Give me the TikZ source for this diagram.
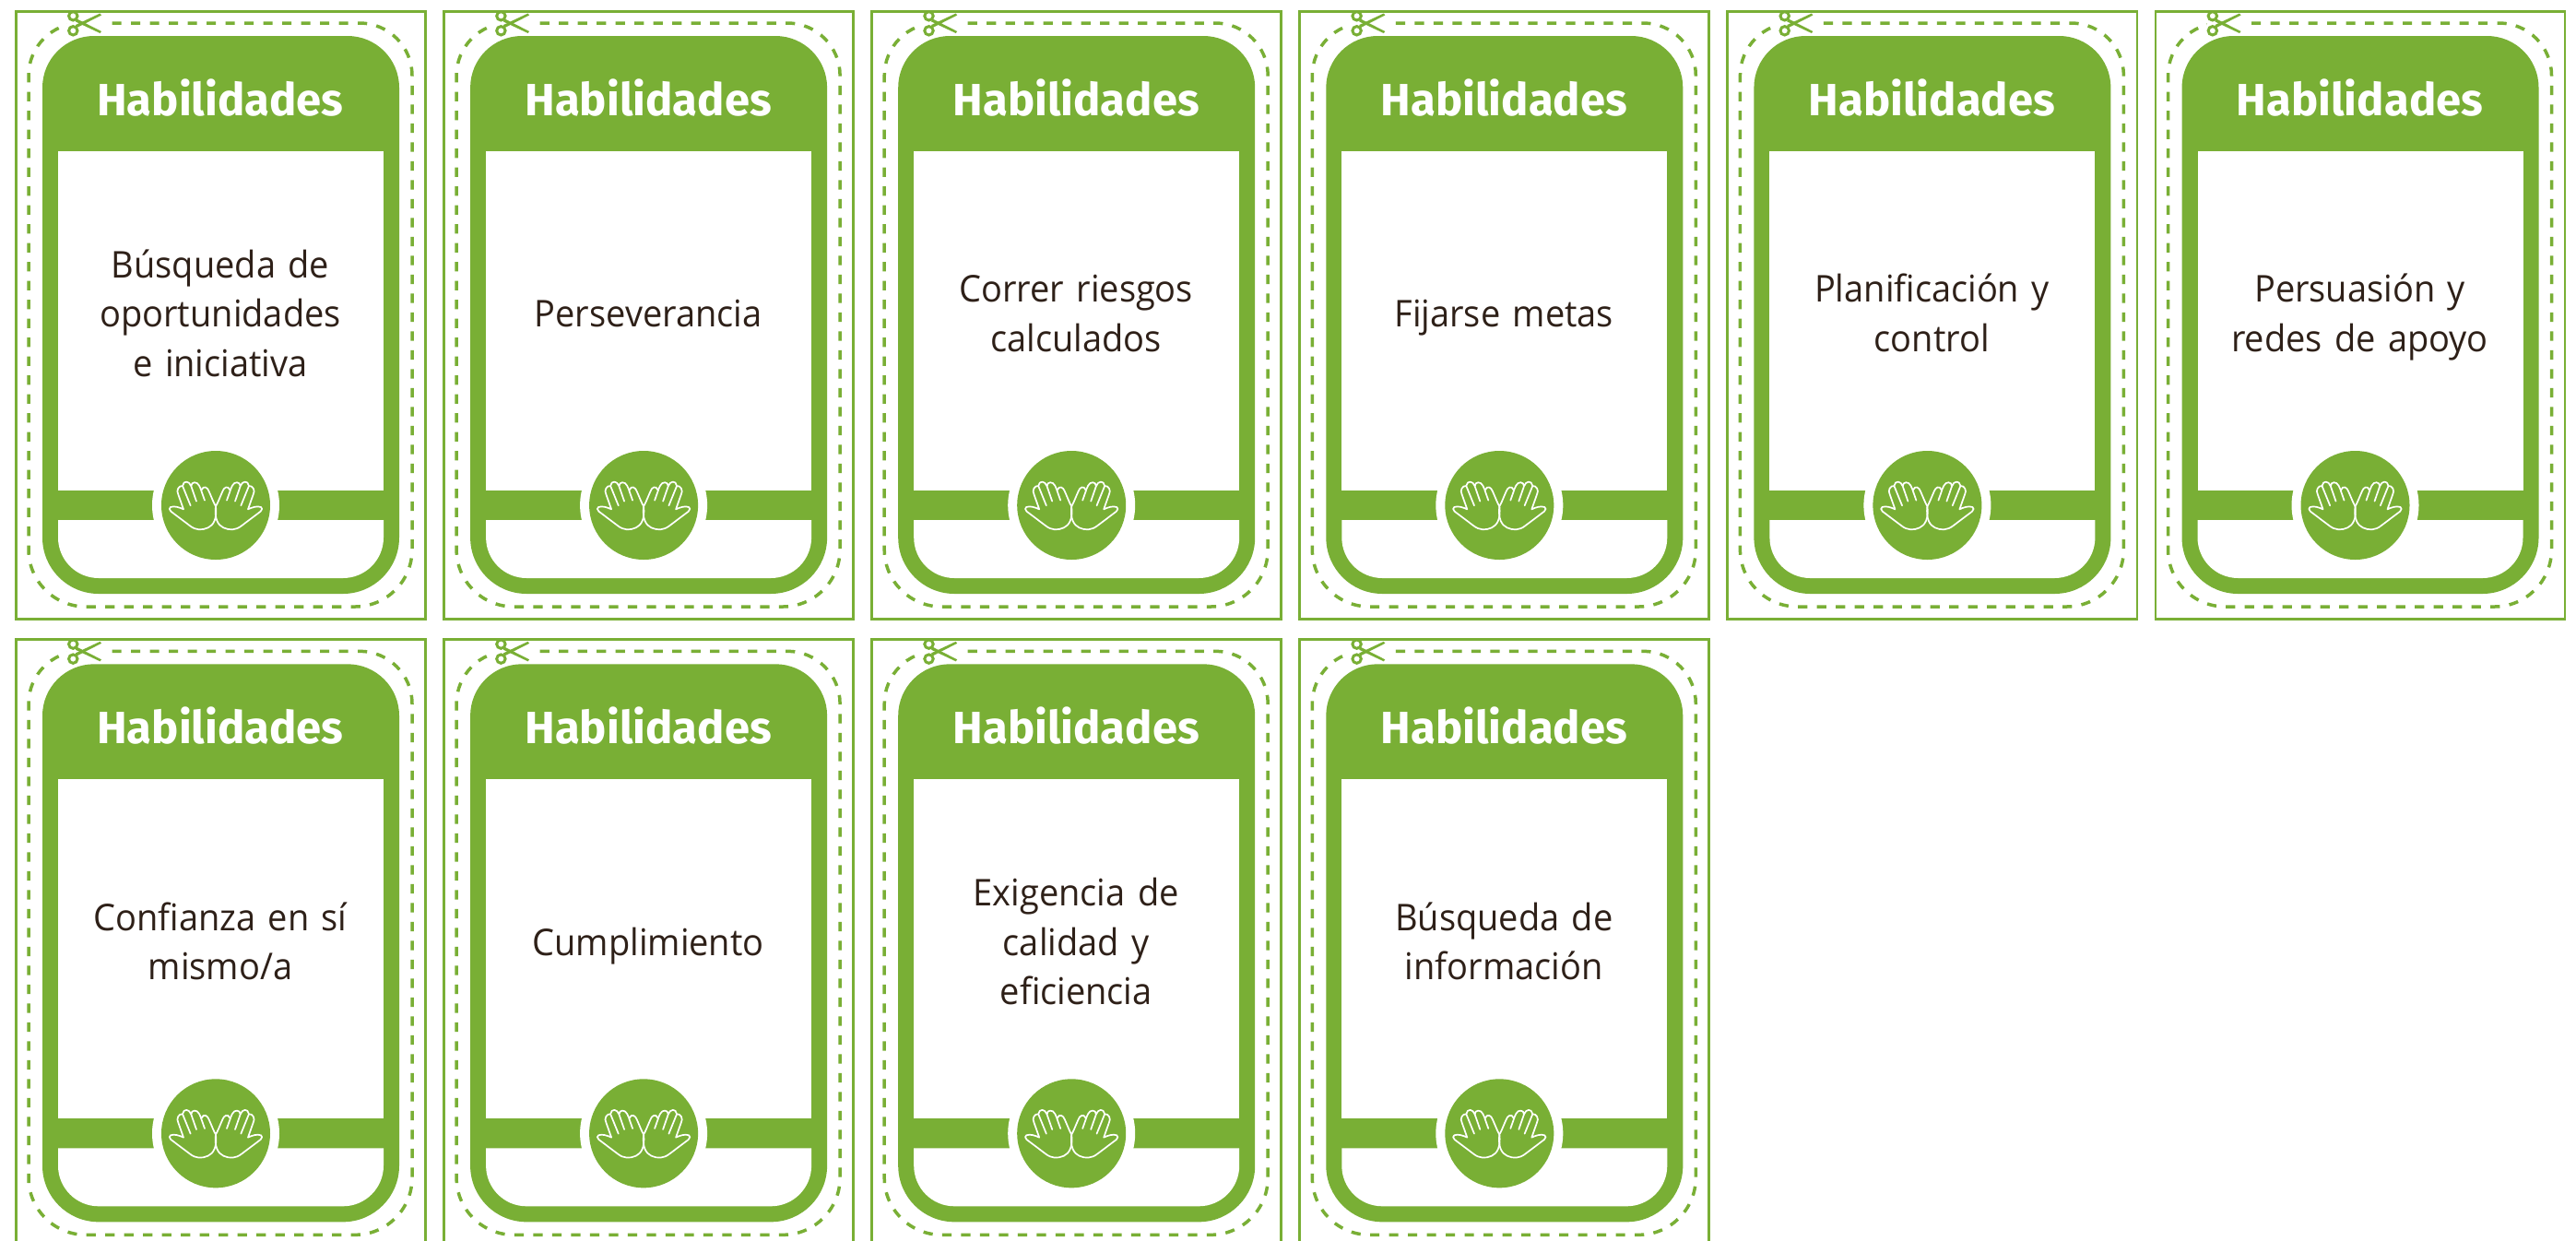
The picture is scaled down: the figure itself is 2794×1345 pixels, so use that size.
\documentclass[tikz,border=0pt]{standalone}
\usepackage{fontspec}
\setmainfont{Open Sans}[FakeStretch=0.95]
\newfontfamily\titlefont{Fira Sans}
\definecolor{cardgreen}{HTML}{79AF35}
\definecolor{cardtext}{HTML}{2E2018}
\tikzset{
  x=1pt,y=-1pt,
  frame/.style={draw=cardgreen,line width=2.6pt},
  cutline/.style={draw=cardgreen,line width=3.5pt,dash pattern=on 10.2pt off 10.3pt,dash phase=6.5pt},
  cardtitle/.style={text=white,font=\titlefont\fontsize{49}{50}\selectfont\bfseries,anchor=base,inner sep=0pt},
  cardbody/.style={text=cardtext,font=\fontsize{40}{53.6}\selectfont,align=center,anchor=center,inner sep=0pt,text width=330pt},
  handline/.style={draw=white,line width=1.7pt,line cap=round,line join=round},
  sciss/.style={draw=cardgreen,line width=3pt},
}
\newcommand{\handshape}{%
  \draw[handline,fill=none]
    (0,3) .. controls (-6,-6) and (-8,-13) .. (-22,-45)
    .. controls (-26,-58) and (-40,-66) .. (-46,-50)
    .. controls (-47,-47) and (-49,-54) .. (-54,-64)
    .. controls (-60,-78) and (-80,-78) .. (-80,-62)
    .. controls (-86,-80) and (-105,-82) .. (-108,-63)
    .. controls (-120,-65) and (-130,-48) .. (-122,-35)
    -- (-105,13)
    .. controls (-118,7) and (-135,1) .. (-147,6)
    .. controls (-152,9) and (-152,14) .. (-146,20)
    -- (-85,66)
    .. controls (-65,82) and (-45,82) .. (-25,73)
    .. controls (-8,65) and (5,45) .. (0,3)
    (-80,-62) -- (-63,-13)
    (-108,-63) -- (-82,1)
    (-48,-50) -- (-36,-16);
}
\newcommand{\card}[4]{%
\begin{scope}[shift={(#1,#2)}]
  \draw[frame] (17.3,12.3) rectangle (461.4,671.4);
  \draw[cutline] (87,25) [rounded corners=57pt] -- (447,25) -- (447,300) [rounded corners=62pt] -- (447,658) -- (31,658) -- (31,300) [rounded corners=57pt] -- (31,25) -- (87,25);
  \fill[cardgreen] (46,300) [rounded corners=56pt] -- (46,39) -- (433,39) -- (433,300) [rounded corners=61pt] -- (433,644) -- (46,644) -- (46,300) [sharp corners] -- cycle;
  \fill[white] (63,164) rectangle (416,532);
  \fill[white] (63,564) -- (416,564) [rounded corners=44pt] -- (416,627) -- (63,627) [sharp corners] -- (63,564) -- cycle;
  \fill[cardgreen] (63,532) rectangle (416,564);
  \fill[white] (234,548) circle[radius=69];
  \fill[cardgreen] (234,548) circle[radius=59];
  \begin{scope}[shift={(234,548)},x=0.3333pt,y=-0.3333pt]
    \handshape
    \begin{scope}[xscale=-1]\handshape\end{scope}
  \end{scope}
  \fill[white] (73,20) rectangle (120,30);
  \draw[sciss] (79.3,17.3) circle[radius=4.7];
  \draw[sciss] (79.3,33.3) circle[radius=4.7];
  \fill[cardgreen] (82.5,20) -- (110,34) -- (108.5,36) -- (82,23.5) -- cycle;
  \fill[cardgreen] (82.5,30.5) -- (110,16.5) -- (108.5,14.5) -- (82,27) -- cycle;
  \node[cardtitle] (#4-title) at (239,125) {Habilidades};
  \node[cardbody] (#4-body) at (239,344) {\strut #3\strut};
\end{scope}}
\begin{document}
\begin{tikzpicture}
\useasboundingbox (0,0) rectangle (2794,1345);
\fill[white] (0,0) rectangle (2794,1345);
\card{0}{0}{Búsqueda de\\oportunidades\\e iniciativa}{a}
\card{464.1}{0}{Perseverancia}{b}
\card{928.2}{0}{Correr riesgos\\calculados}{c}
\card{1392.3}{0}{Fijarse metas}{d}
\card{1856.4}{0}{Planificación y\\control}{e}
\card{2320.5}{0}{Persuasión y\\redes de apoyo}{f}
\card{0}{681.3}{Confianza en sí\\mismo/a}{g}
\card{464.1}{681.3}{Cumplimiento}{h}
\card{928.2}{681.3}{Exigencia de\\calidad y\\eficiencia}{i}
\card{1392.3}{681.3}{Búsqueda de\\información}{j}
\end{tikzpicture}
\end{document}
